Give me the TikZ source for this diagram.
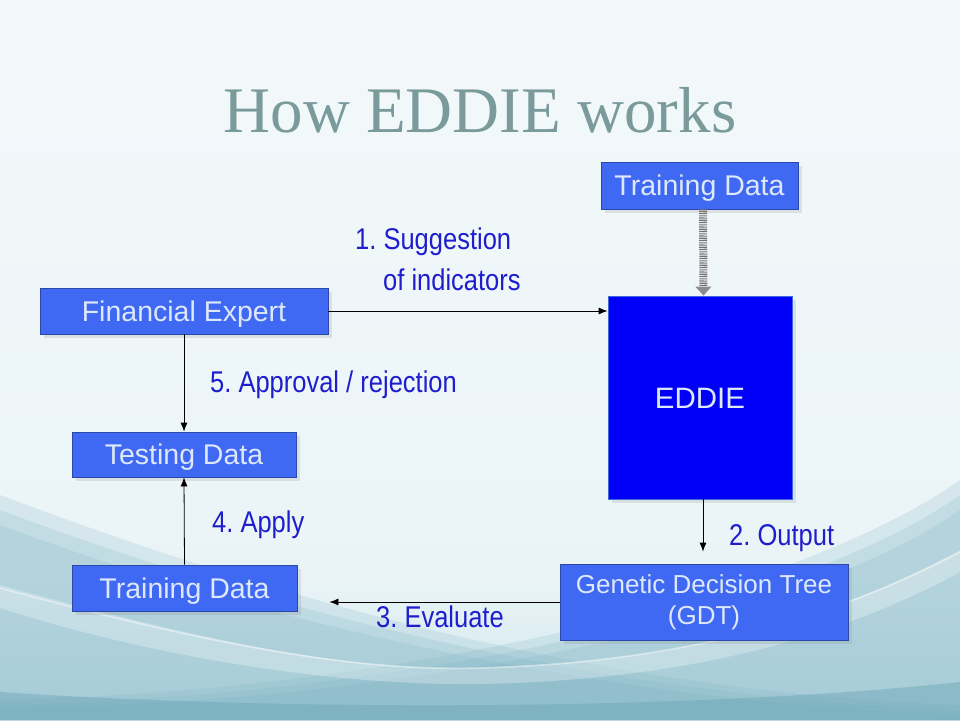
\documentclass[tikz,border=0pt]{standalone}
\usepackage{fontspec}
\setmainfont{Liberation Sans}
\newfontfamily\titlefont{Liberation Serif}
\newfontfamily\lblfont[FakeStretch=0.85]{Liberation Sans}
\usetikzlibrary{arrows.meta,shadows}
\frenchspacing
\definecolor{boxfill}{HTML}{3F68F3}
\definecolor{boxline}{HTML}{2A48A8}
\definecolor{boxtext}{HTML}{DDE8FA}
\definecolor{eddiefill}{HTML}{0000F8}
\definecolor{eddieline}{HTML}{3A6AE0}
\definecolor{lblblue}{HTML}{1E1ECC}
\definecolor{titlecol}{HTML}{7A9A9C}
\definecolor{bgtop}{HTML}{F2F8FA}
\definecolor{bgmid}{HTML}{EAF4F7}
\definecolor{bglow}{HTML}{C6E1E8}
\definecolor{bgteal}{HTML}{7DB3C3}
\definecolor{bgbot}{HTML}{6AA5B6}
\pgfdeclareverticalshading{bgshade}{100bp}{color(0bp)=(bgbot); color(12bp)=(bgteal); color(22bp)=(bglow); color(35bp)=(bgmid); color(70bp)=(bgtop); color(100bp)=(bgtop)}
\tikzset{
  box/.style={draw=boxline, line width=0.8pt, fill=boxfill, text=boxtext, inner sep=0pt,
    font=\fontsize{28.5}{32}\selectfont, align=center, text height=20.5pt, text depth=0pt,
    drop shadow={opacity=0.18, shadow xshift=4pt, shadow yshift=-4pt}},
  lbl/.style={text=lblblue, font=\lblfont\fontsize{30}{38}\selectfont, inner sep=0pt, align=left},
  conn/.style={draw=black, line width=0.8pt, -{Latex[length=9pt,width=7pt]}},
  dotarrow/.style={draw=black!55, line width=8pt, dash pattern=on 0.9pt off 0.9pt,
    -{Triangle[length=9pt,width=16pt,fill=black!45,line width=0pt]}},
  wedge/.style={fill=bgteal, opacity=0.2}
}
\begin{document}
\begin{tikzpicture}[x=1pt,y=-1pt]
\useasboundingbox (0,0) rectangle (960,720);
% background
\shade[shading=bgshade] (0,0) rectangle (960,720);
\foreach \d in {0,15,30} {
  \fill[wedge] (0,{495+\d}) .. controls (200,{570+\d}) and (550,{690+\d/3}) .. (960,{705+\d/3}) -- (960,720) -- (0,720) -- cycle;
  \fill[wedge] (960,{480+\d}) .. controls (820,{580+\d}) and (450,{690+\d/3}) .. (0,{700+\d/3}) -- (0,720) -- (960,720) -- cycle;
}
\fill[white,opacity=0.28] (0,585) .. controls (200,640) and (350,672) .. (480,668)
  .. controls (700,662) and (850,610) .. (960,550) -- (960,572)
  .. controls (850,632) and (700,680) .. (480,684) .. controls (330,686) and (150,656) .. (0,608) -- cycle;
\draw[white,opacity=0.45,line width=1.6pt] (0,588) .. controls (200,642) and (350,672) .. (480,668)
  .. controls (700,662) and (850,610) .. (960,552);
\fill[bgbot,opacity=0.45] (0,692) .. controls (300,712) and (700,710) .. (960,682) -- (960,720) -- (0,720) -- cycle;
% title
\node[anchor=base, text=titlecol, font=\titlefont\fontsize{65}{70}\selectfont, inner sep=0pt] (title) at (480,132) {How EDDIE works};
% boxes
\node[box, minimum width=197, minimum height=47] (tdtop) at (699.5,185.5) {Training Data};
\node[draw=eddieline, line width=0.8pt, fill=eddiefill, text=boxtext, inner sep=0pt,
  minimum width=184, minimum height=203, font=\fontsize{29.5}{33}\selectfont,
  text height=21pt, text depth=0pt,
  drop shadow={opacity=0.18, shadow xshift=4pt, shadow yshift=-4pt}] (eddie) at (700,397.5) {EDDIE};
\node[box, minimum width=288, minimum height=46] (fin) at (184,311) {Financial Expert};
\node[box, minimum width=224, minimum height=45] (test) at (184,454.5) {Testing Data};
\node[box, minimum width=225, minimum height=46] (tdbot) at (184.5,588) {Training Data};
\node[box, minimum width=288, minimum height=76, font=\fontsize{26}{31}\selectfont,
  text height=, text depth=] (gdt) at (704,602) {Genetic Decision Tree\\(GDT)};
% connectors
\draw[dotarrow] ([xshift=3.5pt]tdtop.south) -- ([xshift=3.5pt]eddie.north);
\draw[conn] (fin.east) -- (fin.east -| eddie.west);
\draw[conn] (fin.south) -- (test.north);
\draw[conn] (tdbot.north) -- (test.south);
\draw[conn, shorten >=12pt] ([xshift=3pt]eddie.south) -- ([xshift=-1pt]gdt.north);
\draw[conn, shorten >=32pt] (gdt.west) -- (gdt.west -| tdbot.east);
% labels
\node[lbl, anchor=west] (l1a) at (355,242) {1. Suggestion};
\node[lbl, anchor=west] (l1b) at (383,280) {of indicators};
\node[lbl, anchor=west] (l5) at (210,385) {5. Approval / rejection};
\node[lbl, anchor=west] (l4) at (212,525) {4. Apply};
\node[lbl, anchor=west] (l2) at (729,538) {2. Output};
\node[lbl, anchor=west] (l3) at (376,617) {3. Evaluate};
\end{tikzpicture}
\end{document}
